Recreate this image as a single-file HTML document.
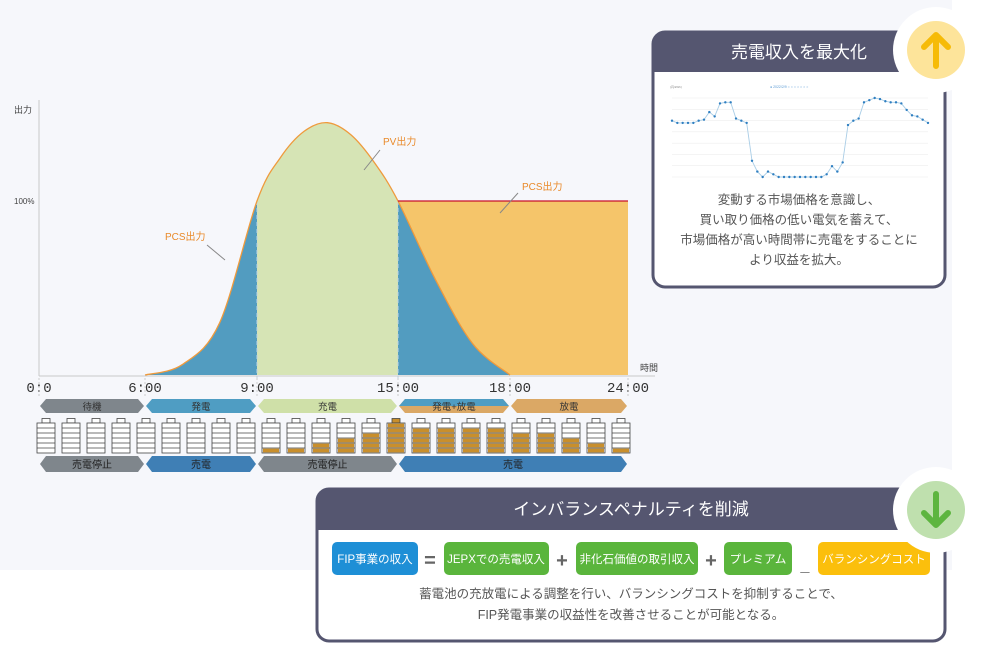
<!DOCTYPE html>
<html><head><meta charset="utf-8"><style>
body{margin:0;width:990px;height:662px;overflow:hidden;background:#fff;font-family:"Liberation Sans","Noto Sans CJK JP",sans-serif}
svg{display:block}
</style></head><body>
<svg id="s" width="990" height="662" viewBox="0 0 990 662" xmlns="http://www.w3.org/2000/svg">
<rect x="0" y="0" width="952" height="570" fill="#f6f7fb"/>
<g id="main"></g>
<g id="bars"></g>
<!-- top panel -->
<g>
<rect x="653" y="32" width="292" height="255" rx="12" fill="#fff" stroke="#555670" stroke-width="3"/>
<path d="M653,72 V44 a12,12 0 0 1 12,-12 H933 a12,12 0 0 1 12,12 V72 Z" fill="#555670"/>
<text x="799" y="58" font-size="17" fill="#fff" text-anchor="middle">売電収入を最大化</text>
<g id="mini"></g>
<g font-size="12.5" fill="#555" text-anchor="middle">
<text x="799" y="204">変動する市場価格を意識し、</text>
<text x="799" y="224">買い取り価格の低い電気を蓄えて、</text>
<text x="799" y="244">市場価格が高い時間帯に売電をすることに</text>
<text x="799" y="264">より収益を拡大。</text></g>
<circle cx="936" cy="50" r="43" fill="#fff"/>
<circle cx="936" cy="50" r="29" fill="#fde49a"/>
<path d="M936,66 V36 M924,47 L936,35 L948,47" stroke="#f6bb07" stroke-width="6" fill="none" stroke-linecap="round" stroke-linejoin="round"/>
</g>
<!-- bottom panel -->
<g>
<rect x="317" y="489" width="628" height="152" rx="12" fill="#fff" stroke="#555670" stroke-width="3"/>
<path d="M317,530 V501 a12,12 0 0 1 12,-12 H933 a12,12 0 0 1 12,12 V530 Z" fill="#555670"/>
<text x="631" y="515" font-size="17" fill="#fff" text-anchor="middle">インバランスペナルティを削減</text>
<rect x="332" y="542" width="86" height="33" rx="5" fill="#1e8fd6"/>
<text x="375" y="563" font-size="11.5" fill="#fff" text-anchor="middle">FIP事業の収入</text>
<text x="430" y="567" font-size="20" fill="#666" text-anchor="middle" font-weight="bold">=</text>
<rect x="444" y="542" width="105" height="33" rx="5" fill="#5ab53c"/>
<text x="496" y="563" font-size="11.5" fill="#fff" text-anchor="middle">JEPXでの売電収入</text>
<text x="562" y="567" font-size="20" fill="#666" text-anchor="middle" font-weight="bold">+</text>
<rect x="576" y="542" width="122" height="33" rx="5" fill="#5ab53c"/>
<text x="637" y="563" font-size="11.5" fill="#fff" text-anchor="middle">非化石価値の取引収入</text>
<text x="711" y="567" font-size="20" fill="#666" text-anchor="middle" font-weight="bold">+</text>
<rect x="724" y="542" width="68" height="33" rx="5" fill="#5ab53c"/>
<text x="758" y="563" font-size="11.5" fill="#fff" text-anchor="middle">プレミアム</text>
<text x="805" y="570" font-size="16" fill="#888" text-anchor="middle">_</text>
<rect x="818" y="542" width="112" height="33" rx="5" fill="#fbbf0c"/>
<text x="874" y="563" font-size="11.5" fill="#fff" text-anchor="middle">バランシングコスト</text>
<g font-size="12.5" fill="#555" text-anchor="middle">
<text x="631" y="598">蓄電池の充放電による調整を行い、バランシングコストを抑制することで、</text>
<text x="631" y="619">FIP発電事業の収益性を改善させることが可能となる。</text></g>
<circle cx="936" cy="510" r="43" fill="#fff"/>
<circle cx="936" cy="510" r="29" fill="#bfe0ae"/>
<path d="M936,494 V524 M924,513 L936,525 L948,513" stroke="#5db53f" stroke-width="6" fill="none" stroke-linecap="round" stroke-linejoin="round"/>
</g>
</svg>
<script>
const NS="http://www.w3.org/2000/svg";
const pvHours=[6,7,8,9,10,11,12,13,14,15,16,17,18];
const pvValues=[0,6,30,100,125,140,145,138,122,100,55,18,0];
const pcsLimit=100;
const tickHours=[0,6,9,15,18,24];
const tickLabels=["0:0","6:00","9:00","15:00","18:00","24:00"];
const batteryLevels=[0,0,0,0,0,0,0,0,0,1,1,2,3,4,6,5,5,5,5,4,4,3,2,1];
const row1Labels=["待機","発電","充電","発電+放電","放電"];
const row1Spans=[[0,6],[6,9],[9,15],[15,18],[18,24]];
const row2Labels=["売電停止","売電","売電停止","売電"];
const row2Spans=[[0,6],[6,9],[9,15],[15,24]];
const priceValues=[5.2,5.0,5.0,5.0,5.0,5.2,5.3,6.0,5.6,6.8,6.9,6.9,5.4,5.2,5.0,1.5,0.5,0,0.5,0.25,0,0,0,0,0,0,0,0,0,0.25,1.0,0.5,1.35,4.8,5.2,5.4,6.9,7.1,7.3,7.2,7.0,6.9,6.9,6.8,6.2,5.7,5.6,5.3,5.0];

const kx=[39,145,257,398,510,628];
function xH(h){for(let i=0;i<tickHours.length-1;i++){const a=tickHours[i],b=tickHours[i+1];if(h<=b)return kx[i]+(h-a)/(b-a)*(kx[i+1]-kx[i]);}return kx[kx.length-1];}
function yV(v){return 375-v*1.74;}
function el(t,a,p){const e=document.createElementNS(NS,t);for(const k in a)e.setAttribute(k,a[k]);p.appendChild(e);return e;}
const main=document.getElementById('main');
// curve path
const pts=pvHours.map((h,i)=>[xH(h),yV(pvValues[i])]);
let d="M"+pts[0][0]+","+pts[0][1];
for(let i=0;i<pts.length-1;i++){const p0=pts[Math.max(0,i-1)],p1=pts[i],p2=pts[i+1],p3=pts[Math.min(pts.length-1,i+2)];
d+=` C${p1[0]+(p2[0]-p0[0])/6},${p1[1]+(p2[1]-p0[1])/6} ${p2[0]-(p3[0]-p1[0])/6},${p2[1]-(p3[1]-p1[1])/6} ${p2[0]},${p2[1]}`;}
const area=d+` L${pts[pts.length-1][0]},375 L${pts[0][0]},375 Z`;
const defs=el('defs',{},main);
function clip(id,x0,x1){const c=el('clipPath',{id},defs);el('rect',{x:x0,y:0,width:x1-x0,height:400},c);}
clip('cb1',xH(6),xH(9));clip('cg',xH(9),xH(15));clip('cb2',xH(15),xH(18));
let e;
e=el('rect',{x:xH(15),y:yV(pcsLimit),width:xH(24)-xH(15),height:375-yV(pcsLimit),fill:'#f5c56a'},main);

e=el('path',{d:area,fill:'#529cc0','clip-path':'url(#cb1)'},main);

e=el('path',{d:area,fill:'#d6e4b5','clip-path':'url(#cg)'},main);

e=el('path',{d:area,fill:'#529cc0','clip-path':'url(#cb2)'},main);

[9,15].forEach(h=>{const l=el('line',{x1:xH(h),x2:xH(h),y1:yV(h==9?pvValues[3]:pvValues[9]),y2:378,stroke:'#bcd3e3','stroke-dasharray':'4,3'},main);
});
e=el('path',{d,fill:'none',stroke:'#ef9a3c','stroke-width':1.3},main);

e=el('line',{x1:xH(15),x2:xH(24),y1:yV(pcsLimit),y2:yV(pcsLimit),stroke:'#c8102e','stroke-width':1.3},main);

// axes
e=el('line',{x1:39,y1:100,x2:39,y2:376,stroke:'#c8c8c8'},main);
e=el('line',{x1:39,y1:376,x2:655,y2:376,stroke:'#c8c8c8'},main);
function txt(x,y,s,sz,fill,anchor,name,p){const t=el('text',{x,y,'font-size':sz,fill,'text-anchor':anchor||'start'},p||main);t.textContent=s;return t;}
txt(14,113,"出力",9,'#444','start','y-axis-title');
txt(14,204,"100%",8,'#444','start','y-tick-100');
txt(640,371,"時間",9,'#444','start','x-axis-title');
tickHours.forEach((h,i)=>{const t=txt(xH(h),392,tickLabels[i],14,'#333','middle','x-tick-label');t.setAttribute('font-family','"Liberation Mono",monospace');
const l=el('line',{x1:xH(h),x2:xH(h),y1:378,y2:398,stroke:'#ccc','stroke-dasharray':'2,2'},main);});
txt(383,145,"PV出力",10,'#e98a2a','start','pv-output-label');
e=el('line',{x1:380,y1:150,x2:364,y2:170,stroke:'#888'},main);
txt(522,190,"PCS出力",10,'#e98a2a','start','pcs-output-label-right');
e=el('line',{x1:518,y1:193,x2:500,y2:213,stroke:'#888'},main);
txt(165,240,"PCS出力",10,'#e98a2a','start','pcs-output-label-left');
e=el('line',{x1:207,y1:245,x2:225,y2:260,stroke:'#888'},main);
// phase rows
const bars=document.getElementById('bars');
const c1=['#7f868c','#4f9dc3','#cfe0a8',null,'#dba865'];
row1Spans.forEach((s,i)=>{const x0=xH(s[0])+1,x1=xH(s[1])-1,y0=399,y1=413,m=(y0+y1)/2;
const pts=`${x0},${m} ${x0+6},${y0} ${x1-6},${y0} ${x1},${m} ${x1-6},${y1} ${x0+6},${y1}`;
let p;
if(c1[i]){p=el('polygon',{points:pts,fill:c1[i]},bars);}
else{el('polygon',{points:pts,fill:'#dba865'},bars);p=el('polygon',{points:`${x0},${m} ${x0+6},${y0} ${x1-6},${y0} ${x1},${m}`,fill:'#4f9dc3'},bars);}

txt((x0+x1)/2,410,row1Labels[i],9.5,'#333','middle','phase-label',bars);});
const c2=['#7f868c','#3f7fb5','#7f868c','#3f7fb5'];
row2Spans.forEach((s,i)=>{const x0=xH(s[0])+1,x1=xH(s[1])-1,y0=456,y1=472,m=(y0+y1)/2;
const p=el('polygon',{points:`${x0},${m} ${x0+6},${y0} ${x1-6},${y0} ${x1},${m} ${x1-6},${y1} ${x0+6},${y1}`,fill:c2[i]},bars);

txt((x0+x1)/2,468,row2Labels[i],10,'#222','middle','sales-label',bars);});
batteryLevels.forEach((lv,i)=>{const g=el('g',{},bars);
const x=37+i*25,w=18,top=423,h=30,sh=h/6;
el('rect',{x:x+5,y:top-4.5,width:8,height:4.5,fill:lv>=6?'#c98f2c':'#fff',stroke:'#444','stroke-width':0.8},g);
el('rect',{x,y:top,width:w,height:h,fill:'#fff',stroke:'#444','stroke-width':0.8},g);
for(let k=0;k<6;k++){const yy=top+h-(k+1)*sh;el('rect',{x:x+1,y:yy+0.6,width:w-2,height:sh-1.2,fill:k<lv?'#c98f2c':'#fff'},g);
if(k>0)el('line',{x1:x,x2:x+w,y1:top+h-k*sh,y2:top+h-k*sh,stroke:'#444','stroke-width':0.8},g);}});
// mini chart
const mini=document.getElementById('mini');
const mx0=672,mx1=928,my0=98,my1=177,vmax=7.3;
for(let k=0;k<=7;k++){const yy=my1-k*(my1-my0)/7;const l=el('line',{x1:mx0,x2:mx1,y1:yy,y2:yy,stroke:'#eee','stroke-width':0.6},mini);}
txt(670,88,"(円/kWh)",3,'#888','start','mini-y-title',mini);
txt(770,88,"● 2022/2/9 ○ ○ ○ ○ ○ ○ ○",3.5,'#5b9bd5','start','mini-legend',mini);
const mxF=i=>mx0+i*(mx1-mx0)/(priceValues.length-1),myF=v=>my1-v/vmax*(my1-my0);
e=el('polyline',{points:priceValues.map((v,i)=>mxF(i)+','+myF(v)).join(' '),fill:'none',stroke:'#a9cde6','stroke-width':0.9},mini);

priceValues.forEach((v,i)=>{const c=el('circle',{cx:mxF(i),cy:myF(v),r:1.2,fill:'#2f7fc1'},mini);});
</script>
</body></html>
